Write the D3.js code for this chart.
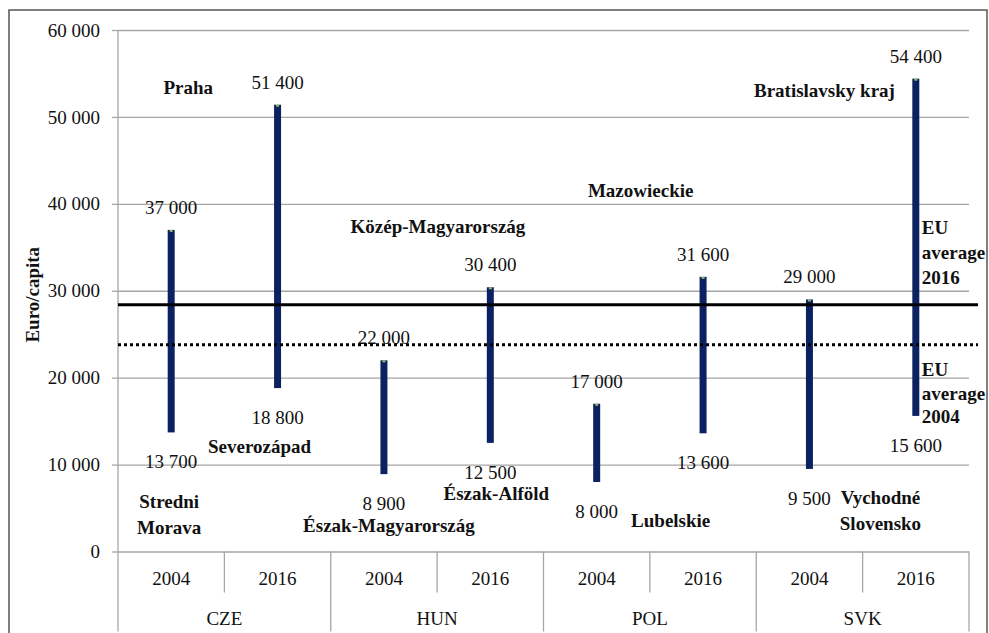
<!DOCTYPE html>
<meta charset="utf-8">
<script src="https://d3js.org/d3.v7.min.js"></script>
<style>
  body { margin: 0; background: #fff; }
  text { font-family: "Liberation Serif", "Times New Roman", serif; fill: #111; }
</style>
<div id="my_dataviz"></div>
<script>

    // data
    var countries = ["CZE", "HUN", "POL", "SVK"];
    var years = ["2004", "2016"];
    // one value per country/year, in the order CZE 2004, CZE 2016, HUN 2004 ...
    var highValues = [37000, 51400, 22000, 30400, 17000, 31600, 29000, 54400];
    var lowValues  = [13700, 18800,  8900, 12500,  8000, 13600,  9500, 15600];
    // richest / poorest region per country
    var topRegions = ["Praha", "Közép-Magyarország", "Mazowieckie", "Bratislavsky kraj"];
    var bottomRegions2004 = ["Stredni\nMorava", "Észak-Magyarország", "Lubelskie", "Vychodné\nSlovensko"];
    var bottomRegions2016 = ["Severozápad", "Észak-Alföld"];
    var euAverage = [
        {label: "EU\naverage\n2016", value: 28400, dash: null},
        {label: "EU\naverage\n2004", value: 23800, dash: "3,3"}
    ];
    var yTicks = [0, 10000, 20000, 30000, 40000, 50000, 60000];

    var W = 989, H = 633;
    var margin = {top: 30, right: 20, bottom: 81.5, left: 118};
    var width = 969 - margin.left,
        height = 551.5 - margin.top;

    var svg = d3.select("#my_dataviz")
      .append("svg")
        .attr("width", W)
        .attr("height", H);

    // outer frame
    svg.append("rect")
        .attr("x", 9).attr("y", 10)
        .attr("width", 978).attr("height", 640)
        .attr("fill", "none")
        .attr("stroke", "#555")
        .attr("stroke-width", 1.5);

    var g = svg.append("g")
        .attr("transform", "translate(" + margin.left + "," + margin.top + ")");

    // build the categories from countries x years
    var cats = [];
    countries.forEach(function(c, i) {
        years.forEach(function(yr, j) {
            var k = i * years.length + j;
            cats.push({key: c + " " + yr, country: c, year: yr, high: highValues[k], low: lowValues[k]});
        });
    });

    var x = d3.scaleBand()
        .domain(cats.map(function(d) { return d.key; }))
        .range([0, width]);
    var y = d3.scaleLinear()
        .domain([0, 60000])
        .range([height, 0]);

    var fmt = d3.formatLocale({decimal: ",", thousands: " ", grouping: [3], currency: ["", ""]}).format(",d");

    // gridlines
    g.append("g")
        .call(d3.axisLeft(y).tickValues(yTicks).tickSize(-width).tickFormat(""))
        .call(function(a) {
            a.select(".domain").remove();
            a.selectAll("line").attr("stroke", "#a6a6a6").attr("stroke-width", 1.3);
        });

    // Y axis
    g.append("g")
        .call(d3.axisLeft(y).tickValues(yTicks).tickSize(6).tickPadding(12).tickFormat(fmt))
        .call(function(a) {
            a.select(".domain").remove();
            a.selectAll("line").attr("stroke", "#a6a6a6").attr("stroke-width", 1.3);
            a.selectAll("text")
                .style("font-family", "'Liberation Serif', serif")
                .style("font-size", "19px")
                .attr("fill", "#111");
        });

    // left axis line goes all the way down through the category table
    g.append("line")
        .attr("x1", 0).attr("x2", 0)
        .attr("y1", 0).attr("y2", height + 80)
        .attr("stroke", "#a6a6a6").attr("stroke-width", 1.3);

    // category table under the plot
    var bw = x.bandwidth();
    cats.forEach(function(d, i) {
        var x0 = x(d.key);
        if (i > 0) {
            var groupEdge = (i % years.length) === 0;
            g.append("line")
                .attr("x1", x0).attr("x2", x0)
                .attr("y1", height).attr("y2", groupEdge ? height + 80 : height + 41)
                .attr("stroke", "#a6a6a6").attr("stroke-width", 1.3);
        }
        g.append("text")
            .attr("x", x0 + bw / 2)
            .attr("y", height + 33)
            .attr("text-anchor", "middle")
            .style("font-size", "19px")
            .text(d.year);
    });
    g.append("line")
        .attr("x1", width).attr("x2", width)
        .attr("y1", height).attr("y2", height + 80)
        .attr("stroke", "#a6a6a6").attr("stroke-width", 1.3);

    countries.forEach(function(c) {
        var first = x(c + " " + years[0]);
        g.append("text")
            .attr("x", first + bw * years.length / 2)
            .attr("y", height + 73)
            .attr("text-anchor", "middle")
            .style("font-size", "19px")
            .text(c);
    });

    // high-low bars
    var barW = 7;
    g.selectAll(".bar")
        .data(cats)
        .enter().append("rect")
        .attr("class", "bar")
        .attr("x", function(d) { return x(d.key) + bw / 2 - barW / 2; })
        .attr("y", function(d) { return y(d.high); })
        .attr("width", barW)
        .attr("height", function(d) { return y(d.low) - y(d.high); })
        .attr("fill", "#0b2161");

    // little green marker on top
    g.selectAll(".tip")
        .data(cats)
        .enter().append("rect")
        .attr("x", function(d) { return x(d.key) + bw / 2 - 1.5; })
        .attr("y", function(d) { return y(d.high); })
        .attr("width", 3).attr("height", 2)
        .attr("fill", "#9bbb59");

    // value labels
    g.selectAll(".hi")
        .data(cats)
        .enter().append("text")
        .attr("x", function(d) { return x(d.key) + bw / 2; })
        .attr("y", function(d) { return y(d.high) - 16; })
        .attr("text-anchor", "middle")
        .style("font-size", "19px")
        .text(function(d) { return fmt(d.high); });
    g.selectAll(".lo")
        .data(cats)
        .enter().append("text")
        .attr("x", function(d) { return x(d.key) + bw / 2; })
        .attr("y", function(d) { return y(d.low) + 36; })
        .attr("text-anchor", "middle")
        .style("font-size", "19px")
        .text(function(d) { return fmt(d.low); });

    // EU average lines
    euAverage.forEach(function(e) {
        g.append("line")
            .attr("x1", 0).attr("x2", width + 9)
            .attr("y1", y(e.value)).attr("y2", y(e.value))
            .attr("stroke", "#000")
            .attr("stroke-width", 3)
            .attr("stroke-dasharray", e.dash);
    });

    // multi-line bold label helper
    function boldLabel(str, px, py, anchor, lh) {
        var t = g.append("text")
            .attr("text-anchor", anchor)
            .style("font-size", "19px")
            .style("font-weight", "bold");
        str.split("\n").forEach(function(s, i) {
            t.append("tspan").attr("x", px).attr("y", py + i * lh).text(s);
        });
    }

    // region names: [category index, dx from bar centre, value for baseline]
    var topPos = [[0, 17, 52600], [2, 54, 36600], [4, 44, 40800], [6, 15, 52300]];
    topRegions.forEach(function(r, i) {
        var p = topPos[i], d = cats[p[0]];
        boldLabel(r, x(d.key) + bw / 2 + p[1], y(p[2]), "middle", 25);
    });
    var bot04Pos = [[0, -2, 5000], [2, 5, 2250], [4, 74, 2800], [6, 71, 5450]];
    bottomRegions2004.forEach(function(r, i) {
        var p = bot04Pos[i], d = cats[p[0]];
        boldLabel(r, x(d.key) + bw / 2 + p[1], y(p[2]), "middle", 26);
    });
    var bot16Pos = [[1, -18, 11300], [3, 6, 5900]];
    bottomRegions2016.forEach(function(r, i) {
        var p = bot16Pos[i], d = cats[p[0]];
        boldLabel(r, x(d.key) + bw / 2 + p[1], y(p[2]), "middle", 25);
    });

    // EU labels sit right of the last bar
    var last = cats[cats.length - 1];
    boldLabel(euAverage[0].label, x(last.key) + bw / 2 + 6, y(36500), "start", 25);
    boldLabel(euAverage[1].label, x(last.key) + bw / 2 + 6, y(20150), "start", 23.5);

    // Y axis title
    svg.append("text")
        .attr("transform", "translate(39," + (margin.top + height / 2 + 4) + ") rotate(-90)")
        .attr("text-anchor", "middle")
        .style("font-size", "19px")
        .style("font-weight", "bold")
        .text("Euro/capita");

</script>
